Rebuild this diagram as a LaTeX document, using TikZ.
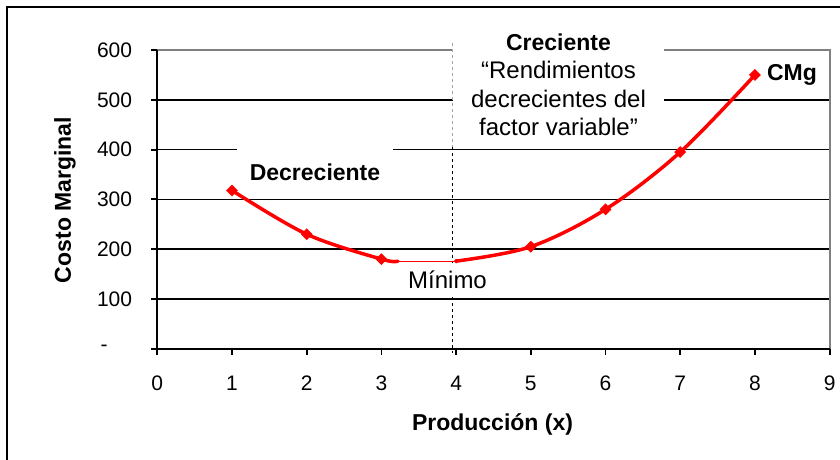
\documentclass[tikz,border=0pt]{standalone}
\usepackage{fontspec}
\setmainfont{Liberation Sans}
\usetikzlibrary{shapes.geometric}
\begin{document}
\begin{tikzpicture}[x=1pt,y=1pt,
  tickmark/.style={line width=1.8pt, black},
  gridline/.style={line width=1.6pt, black},
  graybord/.style={line width=2pt, black!50},
  ticklab/.style={font=\fontsize{21}{25}\selectfont, inner sep=0pt},
  boldlab/.style={font=\bfseries\fontsize{23}{27}\selectfont, inner sep=0pt},
  curve/.style={red, line width=3.5pt, line join=round, line cap=round},
  thincurve/.style={red, line width=1.2pt},
  mk/.style={diamond, fill=red, inner sep=0pt, minimum size=12pt},
  whitebox/.style={fill=white, inner sep=0pt},
  dashline/.style={line width=0.9pt, dash pattern=on 3pt off 3pt},
]
\useasboundingbox (0,0) rectangle (840,460);
\begin{scope}
  \clip (0,0) rectangle (840,460);
  \draw[line width=2pt] (7,-20) -- (7,453) -- (860,453);
\end{scope}

\begin{scope}[shift={(157.3,111.3)}, x=74.7pt, y=0.4977pt]
  \foreach \c in {100,200,300,400,500}
    \draw[gridline] (0,\c) -- (9,\c);
  \draw[graybord] (0,600) -- (9,600) -- (9,0);
  \foreach \c in {0,100,200,300,400,500,600}
    \draw[tickmark] (0,\c) -- ++(-6pt,0pt);
  \foreach \v in {0,...,9}
    \draw[tickmark] (\v,0) -- ++(0pt,-6pt);
  \draw[line width=2pt] (0,600) -- (0,0) -- (9,0);
  \foreach \c in {100,200,300,400,500,600}
    \node[ticklab, anchor=east] (yl\c) at ([xshift=-25pt]0,\c) {\c};
  \node[ticklab] (yl0) at ([xshift=-53.3pt]0,0) {-};
  \foreach \v in {0,...,9}
    \node[ticklab] (xl\v) at ([yshift=-34.3pt]\v,0) {\v};
  \coordinate (p1) at (1,318);
  \coordinate (p2) at (2,230);
  \coordinate (p3) at (3,180);
  \coordinate (p3b) at (3.22,176);
  \coordinate (p4) at (4,176);
  \coordinate (p5) at (5,205);
  \coordinate (p6) at (6,280);
  \coordinate (p7) at (7,395);
  \coordinate (p8) at (8,550);
\end{scope}

% axis titles
\node[boldlab] (xtitle) at (492.5,36) {Producción (x)};
\node[boldlab, rotate=90] (ytitle) at (65,260) {Costo Marginal};

% annotation boxes
\node[whitebox, boldlab, minimum width=156pt, minimum height=46pt] (decr) at (315,288) {Decreciente};
\node[whitebox, minimum width=211pt, minimum height=110pt, align=center,
      font=\fontsize{24}{28.5}\selectfont] (crec) at (558.5,375)
  {{\bfseries\fontsize{23}{28.5}\selectfont Creciente}\\“Rendimientos\\decrecientes del\\factor variable”};

% dashed vertical line
\coordinate (dtop) at (452.3,417);
\coordinate (dmid) at (452.3,313);
\coordinate (dbot) at (452.3,107);
\draw[dashline, black!35] (dtop) -- (dmid);
\draw[dashline, black] (dmid) -- (dbot);

\node[whitebox, minimum width=95pt, minimum height=33pt, font=\fontsize{24}{28}\selectfont] (minimo) at (447.5,180) {Mínimo};

\node[boldlab] (cmg) at (792,385) {CMg};

% curve
\draw[curve] plot[smooth, tension=0.55] coordinates {(p1) (p2) (p3) (p3b)};
\draw[thincurve] (p3b) -- (p4);
\draw[curve] plot[smooth, tension=0.55] coordinates {(p4) (p5) (p6) (p7) (p8)};
\foreach \i in {1,2,3,5,6,7,8}
  \node[mk] (m\i) at (p\i) {};
\node[mk, minimum size=5pt] (m4) at (p4) {};
\end{tikzpicture}
\end{document}
